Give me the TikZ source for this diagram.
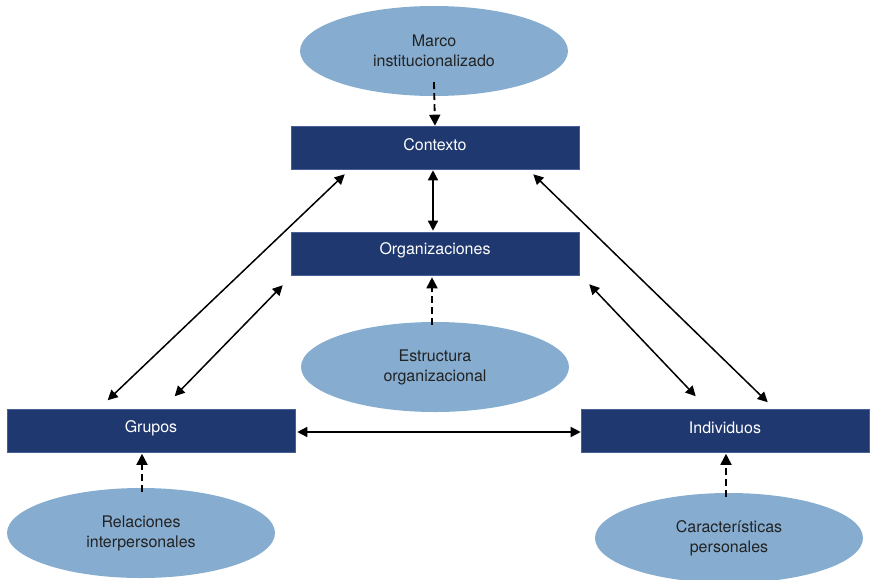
\documentclass[tikz,border=0pt]{standalone}
\usepackage{fontspec}
\setmainfont{TeX Gyre Heros}
\usetikzlibrary{shapes.geometric,arrows.meta,calc}
\definecolor{navy}{RGB}{31,56,112}
\definecolor{navyedge}{RGB}{70,95,150}
\definecolor{lightblue}{RGB}{134,173,208}
\definecolor{txtdark}{RGB}{34,34,34}
\begin{document}
\begin{tikzpicture}[x=1pt,y=-1pt,
  boxnode/.style={rectangle,fill=navy,draw=navyedge,line width=0.6pt,minimum width=288pt,minimum height=43pt,inner sep=0pt,text=white,font=\fontsize{16}{20}\selectfont},
  boxlabel/.style={text=white,font=\fontsize{16}{20}\selectfont,inner sep=0pt},
  ovalnode/.style={ellipse,fill=lightblue,draw=none,minimum width=268pt,minimum height=90pt,inner sep=0pt,text=txtdark,align=center,font=\fontsize{16}{20}\selectfont},
  biarrow/.style={line width=1.5pt,{Triangle[length=10pt,width=10pt]}-{Triangle[length=10pt,width=10pt]}},
  dasharrow/.style={line width=1.8pt,dash pattern=on 7pt off 4pt,-{Triangle[length=11pt,width=11pt]}}
]
\useasboundingbox (0,0) rectangle (871,579);
\node[ovalnode] (mar) at (434,51) {Marco\\institucionalizado};
\node[boxnode] (ctx) at (435,147.5) {};
\node[boxlabel] (ctxl) at (435,144.5) {Contexto};
\node[boxnode] (org) at (435,253.5) {};
\node[boxlabel] (orgl) at (435,250.5) {Organizaciones};
\node[ovalnode] (est) at (435,367) {Estructura\\organizacional};
\node[boxnode] (grp) at (151,431) {};
\node[boxlabel] (grpl) at (151,428) {Grupos};
\node[boxnode] (ind) at (725,431) {};
\node[boxlabel] (indl) at (725,428) {Individuos};
\node[ovalnode] (rel) at (141,533) {Relaciones\\interpersonales};
\node[ovalnode] (car) at (729,538) {Características\\personales};

\draw[biarrow] ($(ctx.south)+(-2,1)$) -- ($(org.north)+(-2,-1)$);
\draw[biarrow] ($(ctx.south west)+(54,5)$) -- ($(grp.north west)+(101,-9)$);
\draw[biarrow] ($(org.south west)+(-8,10)$) -- ($(grp.north west)+(168,-13)$);
\draw[biarrow] ($(ctx.south east)+(-46,5)$) -- ($(ind.north west)+(187,-7)$);
\draw[biarrow] ($(org.south east)+(10,9)$) -- ($(ind.north west)+(115,-13)$);
\draw[biarrow] ($(grp.east)+(2,1)$) -- ($(ind.west)+(0,1)$);

\draw[dasharrow] ($(mar.south)+(0,-14)$) -- (ctx.north);
\draw[dasharrow] ($(est.north)+(-3,3)$) -- ($(org.south)+(-3,2)$);
\draw[dasharrow] ($(rel.north)+(1,4)$) -- ($(grp.south)+(-9,1)$);
\draw[dasharrow] ($(car.north)+(-3,4)$) -- ($(ind.south)+(1,1)$);
\end{tikzpicture}
\end{document}
